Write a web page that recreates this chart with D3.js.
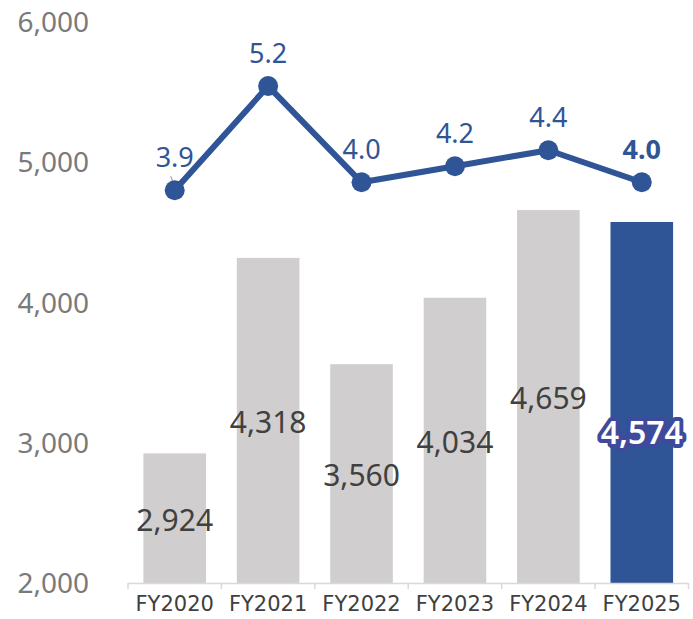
<!DOCTYPE html>
<html>
<head>
<meta charset="utf-8">
<script src="https://cdn.jsdelivr.net/npm/d3@7"></script>
<style>
  html, body { margin: 0; padding: 0; background: #fff; }
  svg { display: block; }
</style>
</head>
<body>
<div id="chart"></div>
<script>
// data
const years = ['FY2020', 'FY2021', 'FY2022', 'FY2023', 'FY2024', 'FY2025'];
const amounts = [2924, 4318, 3560, 4034, 4659, 4574];
const rates = [3.9, 5.2, 4.0, 4.2, 4.4, 4.0];
const yTicks = [2000, 3000, 4000, 5000, 6000];

const W = 693, H = 619;
const margin = { top: 22, right: 5, bottom: 36, left: 128 };
const plotW = 688.5 - margin.left;
const plotH = 583 - margin.top;

const blue = '#2f5597';
const grey = '#d0cece';

const svg = d3.select('#chart').append('svg')
  .attr('width', W).attr('height', H);

const g = svg.append('g')
  .attr('transform', `translate(${margin.left},${margin.top})`);

const x = d3.scaleBand()
  .domain(years)
  .range([0, plotW])
  .paddingInner(0.33)
  .paddingOuter(0.165);

const y = d3.scaleLinear().domain([2000, 6000]).range([plotH, 0]);
const y2 = d3.scaleLinear().domain([-1, 6]).range([plotH, 0]);

// y axis labels (no line)
svg.append('g')
  .selectAll('text')
  .data(yTicks)
  .join('text')
  .attr('x', 89)
  .attr('y', d => margin.top + y(d))
  .attr('dy', '0.36em')
  .attr('text-anchor', 'end')
  .attr('font-family', 'Noto Sans, sans-serif')
  .attr('font-size', 28)
  .attr('fill', '#7a7a7a')
  .text(d => d3.format(',')(d));

// bars
g.selectAll('.bar')
  .data(years)
  .join('rect')
  .attr('class', 'bar')
  .attr('x', d => x(d))
  .attr('width', x.bandwidth())
  .attr('y', (d, i) => y(amounts[i]))
  .attr('height', (d, i) => plotH - y(amounts[i]))
  .attr('fill', (d, i) => i === years.length - 1 ? blue : grey);

// x axis line + ticks at band edges
const edges = d3.range(years.length + 1).map(i => i * plotW / years.length);
g.append('line')
  .attr('x1', 0).attr('x2', plotW)
  .attr('y1', plotH + 0.5).attr('y2', plotH + 0.5)
  .attr('stroke', '#d9d9d9').attr('stroke-width', 1.5);
g.selectAll('.tick-mark')
  .data(edges)
  .join('line')
  .attr('class', 'tick-mark')
  .attr('x1', d => d).attr('x2', d => d)
  .attr('y1', plotH).attr('y2', plotH + 6)
  .attr('stroke', '#d9d9d9').attr('stroke-width', 1.5);

g.selectAll('.xlabel')
  .data(years)
  .join('text')
  .attr('class', 'xlabel')
  .attr('x', d => x(d) + x.bandwidth() / 2)
  .attr('y', plotH + 20)
  .attr('dy', '0.36em')
  .attr('text-anchor', 'middle')
  .attr('font-family', 'DejaVu Sans, sans-serif')
  .attr('font-size', 21)
  .attr('fill', '#404040')
  .text(d => d);

// bar value labels, centred in bar (last one sits a bit lower)
g.selectAll('.vlabel')
  .data(years)
  .join('text')
  .attr('class', 'vlabel')
  .attr('x', d => x(d) + x.bandwidth() / 2)
  .attr('y', (d, i) => (y(amounts[i]) + plotH) / 2 + (i === years.length - 1 ? 30 : 1.5))
  .attr('dy', '0.36em')
  .attr('text-anchor', 'middle')
  .attr('font-family', 'Noto Sans, sans-serif')
  .attr('font-size', (d, i) => i === years.length - 1 ? 32 : 30)
  .attr('fill', (d, i) => i === years.length - 1 ? '#fff' : '#404040')
  .attr('stroke', (d, i) => i === years.length - 1 ? '#3f4a9c' : 'none')
  .attr('stroke-width', 8)
  .attr('stroke-linejoin', 'round')
  .attr('paint-order', 'stroke')
  .attr('font-weight', (d, i) => i === years.length - 1 ? 600 : 400)
  .text((d, i) => d3.format(',')(amounts[i]));

// rate line
const cx = d => x(d) + x.bandwidth() / 2;
const line = d3.line()
  .x((d, i) => cx(years[i]))
  .y(d => y2(d));

g.append('path')
  .datum(rates)
  .attr('d', line)
  .attr('fill', 'none')
  .attr('stroke', blue)
  .attr('stroke-width', 6)
  .attr('stroke-linejoin', 'round');

// small leader line for the first label
g.append('line')
  .attr('x1', cx(years[0]) - 4).attr('y1', y2(rates[0]) - 14)
  .attr('x2', cx(years[0])).attr('y2', y2(rates[0]) - 4)
  .attr('stroke', '#a6a6a6').attr('stroke-width', 1.2);

g.selectAll('.dot')
  .data(rates)
  .join('circle')
  .attr('class', 'dot')
  .attr('cx', (d, i) => cx(years[i]))
  .attr('cy', d => y2(d))
  .attr('r', 10)
  .attr('fill', blue);

g.selectAll('.rlabel')
  .data(rates)
  .join('text')
  .attr('class', 'rlabel')
  .attr('x', (d, i) => cx(years[i]))
  .attr('y', d => y2(d) - 33)
  .attr('dy', '0.36em')
  .attr('text-anchor', 'middle')
  .attr('font-family', 'Noto Sans, sans-serif')
  .attr('font-size', 27)
  .attr('font-weight', (d, i) => i === rates.length - 1 ? 700 : 400)
  .attr('fill', blue)
  .text(d => d.toFixed(1));
</script>
</body>
</html>
